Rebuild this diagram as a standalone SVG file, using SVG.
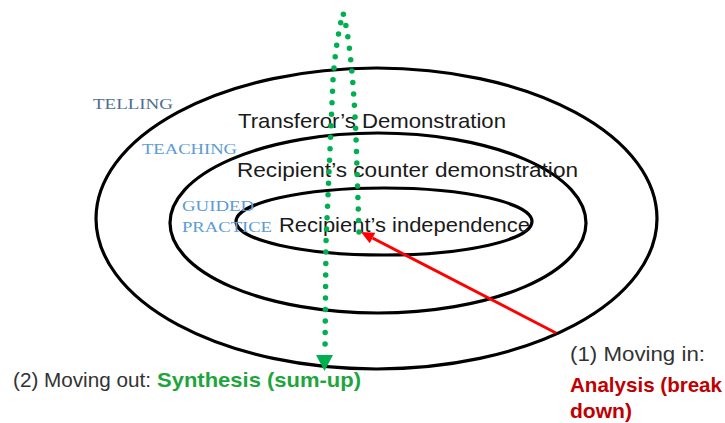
<svg xmlns="http://www.w3.org/2000/svg" width="725" height="423" viewBox="0 0 725 423">
<style>
.ring{fill:none;stroke:#000;stroke-width:3.2}
.main{font-family:"Liberation Sans","Open Sans",sans-serif;font-size:21px;fill:#1a1a1a}
.lab{font-family:"Liberation Serif","DejaVu Serif",serif;font-size:15px;fill:#5b9bd5}
.cap{font-family:"Liberation Sans","Open Sans",sans-serif;font-size:21px;fill:#333}
.bold{font-weight:bold}
</style>
<rect width="725" height="423" fill="#fff"/>
<g id="outer-ring">
<ellipse class="ring" cx="376.5" cy="218.5" rx="280.5" ry="150.5"/>
<text class="lab" x="93" y="109" textLength="80" lengthAdjust="spacingAndGlyphs" style="fill:#4e6e8e">TELLING</text>
<text class="main" x="238" y="128" textLength="268" lengthAdjust="spacingAndGlyphs">Transferor’s Demonstration</text>
</g>
<g id="middle-ring">
<ellipse class="ring" cx="378" cy="223" rx="208" ry="90"/>
<text class="lab" x="142" y="154" textLength="95" lengthAdjust="spacingAndGlyphs">TEACHING</text>
<text class="main" x="237" y="177" textLength="341" lengthAdjust="spacingAndGlyphs">Recipient’s counter demonstration</text>
</g>
<g id="inner-ring">
<ellipse class="ring" cx="384" cy="221.5" rx="148" ry="33.5"/>
<text class="lab" x="182" y="211" textLength="72" lengthAdjust="spacingAndGlyphs">GUIDED</text>
<text class="lab" x="182" y="232" textLength="90" lengthAdjust="spacingAndGlyphs">PRACTICE</text>
<text class="main" x="279" y="232" textLength="251" lengthAdjust="spacingAndGlyphs">Recipient’s independence</text>
</g>
<g id="connectors">
<path d="M359,232 L356,137 Q352,45 343,13 Q336,40 333,80 L326,242 L325,352" fill="none" stroke="#00b050" stroke-width="5.5" stroke-linecap="round" stroke-dasharray="0 11.5"/>
<polygon points="316,355 333,355 324.5,371" fill="#00b050"/>
<line x1="556" y1="333" x2="372.5" y2="238" stroke="#ff0000" stroke-width="3"/>
<polygon points="361,232 375.3,232.7 369.7,243.3" fill="#ff0000"/>
</g>
<g id="label-out">
<text class="cap" x="13" y="387" textLength="138" lengthAdjust="spacingAndGlyphs">(2) Moving out:</text>
<text class="cap bold" x="157" y="387" textLength="204" lengthAdjust="spacingAndGlyphs" style="fill:#1ea53c">Synthesis (sum-up)</text>
</g>
<g id="label-in">
<text class="cap" x="570" y="361" textLength="135" lengthAdjust="spacingAndGlyphs">(1) Moving in:</text>
<text class="cap bold" x="570" y="392" textLength="152" lengthAdjust="spacingAndGlyphs" style="fill:#c00000">Analysis (break</text>
<text class="cap bold" x="570" y="418" textLength="62" lengthAdjust="spacingAndGlyphs" style="fill:#c00000">down)</text>
</g>
</svg>
